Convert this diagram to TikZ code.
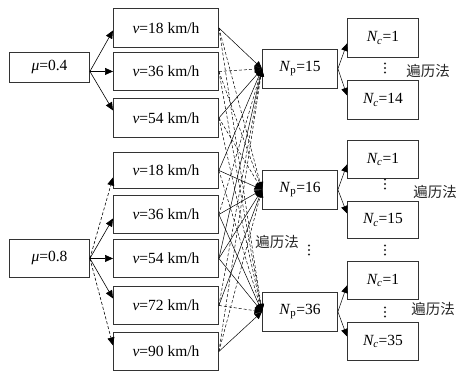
\documentclass[tikz,border=0pt]{standalone}
\usepackage{fontspec}
\setmainfont{Liberation Serif}
\newfontfamily\cjk{Noto Sans CJK SC}
\usetikzlibrary{arrows.meta}
\begin{document}
\begin{tikzpicture}[x=1pt,y=-1pt,
  bx/.style={draw=black!80, line width=0.9pt, anchor=north west, inner sep=0pt,
    font=\fontsize{15.5}{18}\selectfont},
  mubox/.style={bx, minimum width=80pt},
  vbox/.style={bx, minimum width=105pt, minimum height=38pt},
  npbox/.style={bx, minimum width=75pt, minimum height=38.5pt},
  ncbox/.style={bx, minimum width=71pt, minimum height=38pt},
  arr/.style={line width=0.6pt, -{Triangle[length=8pt,width=7pt]}},
  arrs/.style={line width=0.5pt, -{Triangle[length=7.5pt,width=6.5pt]}},
  dsh/.style={dash pattern=on 3pt off 2pt},
  lbl/.style={font=\cjk\fontsize{14.5}{16}\selectfont, text=black!85, inner sep=1pt},
  vdot/.style={fill=black!85}]
\useasboundingbox (0,0) rectangle (459,372);

% mu boxes
\node[mubox, minimum height=30pt] (mu1) at (9,52) {\textit{μ}=0.4};
\node[mubox, minimum height=38pt] (mu2) at (9,239) {\textit{μ}=0.8};

% v boxes
\node[vbox, minimum height=39pt] (v1) at (113,8) {\textit{v}=18 km/h};
\node[vbox] (v2) at (113,52) {\textit{v}=36 km/h};
\node[vbox, minimum height=39pt] (v3) at (113,98) {\textit{v}=54 km/h};
\node[vbox, minimum height=36pt] (v4) at (113,152) {\textit{v}=18 km/h};
\node[vbox] (v5) at (113,195) {\textit{v}=36 km/h};
\node[vbox] (v6) at (113,239) {\textit{v}=54 km/h};
\node[vbox] (v7) at (113,286) {\textit{v}=72 km/h};
\node[vbox] (v8) at (113,332) {\textit{v}=90 km/h};

% Np boxes
\node[npbox] (n1) at (262,49) {\textit{N}\textsubscript{p}=15};
\node[npbox] (n2) at (262,170) {\textit{N}\textsubscript{p}=16};
\node[npbox] (n3) at (262,292) {\textit{N}\textsubscript{p}=36};

% Nc boxes
\node[ncbox, minimum height=39pt] (c1) at (347,18) {\textit{N\textsubscript{c}}=1};
\node[ncbox, minimum height=39pt] (c2) at (347,80) {\textit{N\textsubscript{c}}=14};
\node[ncbox] (c3) at (347,140) {\textit{N\textsubscript{c}}=1};
\node[ncbox, minimum height=37pt] (c4) at (347,201) {\textit{N\textsubscript{c}}=15};
\node[ncbox] (c5) at (347,261) {\textit{N\textsubscript{c}}=1};
\node[ncbox] (c6) at (347,322) {\textit{N\textsubscript{c}}=35};

% mu -> v
\draw[arr] ([yshift=-4pt]mu1.east) -- ([yshift=-2.5pt]v1.west);
\draw[arr] ([yshift=-4pt]mu1.east) -- (v2.west);
\draw[arr] ([yshift=-4pt]mu1.east) -- ([yshift=7.5pt]v3.west);
\draw[arr, dsh] (mu2.east) -- ([yshift=-7pt]v4.west);
\draw[arr] (mu2.east) -- ([yshift=-4pt]v5.west);
\draw[arr] (mu2.east) -- (v6.west);
\draw[arr] (mu2.east) -- ([yshift=7pt]v7.west);
\draw[arr, dsh] (mu2.east) -- ([yshift=6pt]v8.west);

% v -> Np (to n1)
\draw[arrs] (v1.east) -- (n1.west);
\draw[arrs, dsh] (v2.east) -- (n1.west);
\draw[arrs] (v3.east) -- (n1.west);
\draw[arrs] (v4.east) -- (n1.west);
\draw[arrs, dsh] (v5.east) -- (n1.west);
\draw[arrs] (v6.east) -- (n1.west);
\draw[arrs, dsh] (v7.east) -- (n1.west);
\draw[arrs, dsh] (v8.east) -- (n1.west);
% to n2
\draw[arrs, dsh] (v1.east) -- (n2.west);
\draw[arrs, dsh] (v2.east) -- (n2.west);
\draw[arrs, dsh] (v3.east) -- (n2.west);
\draw[arrs] (v4.east) -- (n2.west);
\draw[arrs] (v5.east) -- (n2.west);
\draw[arrs] (v6.east) -- (n2.west);
\draw[arrs] (v7.east) -- (n2.west);
\draw[arrs, dsh] (v8.east) -- (n2.west);
% to n3
\draw[arrs, dsh] (v1.east) -- (n3.west);
\draw[arrs, dsh] (v2.east) -- (n3.west);
\draw[arrs, dsh] (v3.east) -- (n3.west);
\draw[arrs, dsh] (v4.east) -- (n3.west);
\draw[arrs] (v5.east) -- (n3.west);
\draw[arrs] (v6.east) -- (n3.west);
\draw[arrs, dsh] (v7.east) -- (n3.west);
\draw[arrs] (v8.east) -- (n3.west);

% Np -> Nc
\draw[arrs] (n1.east) -- ([yshift=-5.5pt]c1.west);
\draw[arrs] (n1.east) -- ([yshift=4.5pt]c2.west);
\draw[arrs] (n2.east) -- ([yshift=-5pt]c3.west);
\draw[arrs] (n2.east) -- ([yshift=6.5pt]c4.west);
\draw[arrs] (n3.east) -- ([yshift=-5pt]c5.west);
\draw[arrs] (n3.east) -- ([yshift=5pt]c6.west);

% vertical dots
\foreach \px/\py in {385/68, 385/184, 385/250, 385/312, 309/250}{
  \foreach \dy in {-4.5,0,4.5}
    \fill[vdot] (\px,\py+\dy) circle (1.2pt);
}

% labels
\node[lbl] (l1) at (428,71) {遍历法};
\node[lbl] (l2) at (435,192) {遍历法};
\node[lbl] (l3) at (433,309) {遍历法};
\node[lbl] (l4) at (277,242) {遍历法};
\end{tikzpicture}
\end{document}
